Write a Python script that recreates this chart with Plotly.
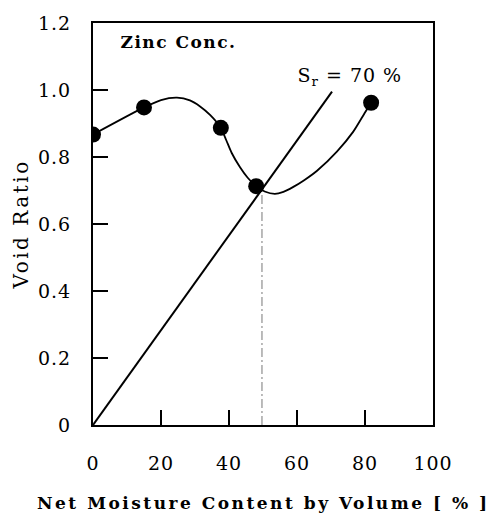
import plotly.graph_objects as go

# Measured data points (net moisture content by volume [%], void ratio)
point_x = [0, 15, 37.6, 48, 81.8]
point_y = [0.867, 0.948, 0.887, 0.713, 0.962]

# Hand-drawn fitted curve through the points
curve_x = [0, 15, 20, 24.7, 28.5, 31.5, 34.5, 37.6, 39.2, 40.8, 43.2, 45.5, 48,
           50.5, 53.5, 56, 58.8, 62, 65.9, 71.8, 76.5, 80, 81.8]
curve_y = [0.867, 0.948, 0.970, 0.977, 0.969, 0.951, 0.925, 0.887, 0.850, 0.812, 0.770, 0.738, 0.713,
           0.697, 0.690, 0.696, 0.710, 0.730, 0.759, 0.817, 0.875, 0.933, 0.962]

# Saturation line Sr = 70 %
sr_x = [0, 70.3]
sr_y = [0, 0.995]

# Dashed drop line
drop_x = [49.7, 49.7]
drop_y = [0, 0.71]

x_ticks = [0, 20, 40, 60, 80, 100]
x_labels = ["0", "20", "40", "60", "80", "100"]
y_ticks = [0, 0.2, 0.4, 0.6, 0.8, 1.0, 1.2]
y_labels = ["0", "0.2", "0.4", "0.6", "0.8", "1.0", "1.2"]

FONT = "DejaVu Serif"

fig = go.Figure()
fig.add_trace(go.Scatter(x=drop_x, y=drop_y, mode="lines",
                         line=dict(color="#777777", width=1, dash="9px,3px,2px,3px"),
                         showlegend=False, hoverinfo="skip"))
fig.add_trace(go.Scatter(x=sr_x, y=sr_y, mode="lines",
                         line=dict(color="black", width=2), showlegend=False))
fig.add_trace(go.Scatter(x=curve_x, y=curve_y, mode="lines",
                         line=dict(color="black", width=1.8, shape="spline", smoothing=0.7),
                         showlegend=False))
fig.add_trace(go.Scatter(x=point_x, y=point_y, mode="markers",
                         marker=dict(color="black", size=16), showlegend=False))

fig.update_layout(
    width=490, height=522,
    margin=dict(l=93, r=57, t=12, b=97),
    paper_bgcolor="white", plot_bgcolor="white",
    font=dict(family=FONT, color="black", size=19),
    xaxis=dict(range=[0, 100], tickvals=x_ticks, ticktext=x_labels,
               showline=True, mirror=True, linecolor="black", linewidth=2,
               ticks="inside", ticklen=15, tickwidth=1.5, tickcolor="black",
               ticklabelstandoff=20, showgrid=False, zeroline=False,
               tickfont=dict(size=19, family=FONT)),
    yaxis=dict(range=[0, 1.2], tickvals=y_ticks, ticktext=y_labels,
               showline=True, mirror=True, linecolor="black", linewidth=2,
               ticks="inside", ticklen=15, tickwidth=1.5, tickcolor="black",
               ticklabelstandoff=16, showgrid=False, zeroline=False,
               tickfont=dict(size=19, family=FONT)),
    annotations=[
        dict(text="Zinc Conc.", x=25, y=1.142, xref="x", yref="y",
             showarrow=False, font=dict(size=17, family=FONT, weight="bold")),
        dict(text="S<sub>r</sub> = 70 %", x=75.6, y=1.04, xref="x", yref="y",
             showarrow=False, font=dict(size=19, family=FONT)),
        dict(text="Net Moisture Content by Volume [ % ]", x=0.5, y=-0.194,
             xref="paper", yref="paper", xanchor="center", yanchor="middle",
             showarrow=False, font=dict(size=17, family=FONT, weight="bold")),
        dict(text="Void Ratio", x=-0.212, y=0.5, xref="paper", yref="paper",
             xanchor="center", yanchor="middle", textangle=-90,
             showarrow=False, font=dict(size=20, family=FONT)),
    ],
)

post = """
var st = document.createElement('style');
st.innerHTML = '.xtick text, .ytick text {letter-spacing: 1px;}'
  + ' .annotation[data-index="0"] text {letter-spacing: 1.5px;}'
  + ' .annotation[data-index="1"] text {letter-spacing: 1px;}'
  + ' .annotation[data-index="2"] text {letter-spacing: 2.5px;}'
  + ' .annotation[data-index="3"] text {letter-spacing: 2.5px;}';
document.head.appendChild(st);
"""

fig.write_html("out.html", post_script=post)
